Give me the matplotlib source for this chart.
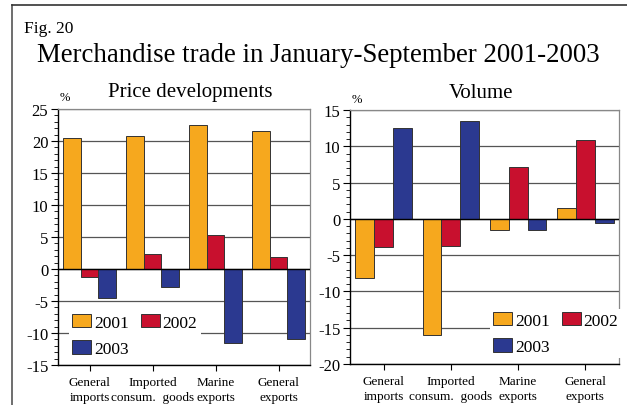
import numpy as np
import matplotlib
matplotlib.use('Agg')
import matplotlib.pyplot as plt
from matplotlib.lines import Line2D
from matplotlib.ticker import MultipleLocator

plt.rcParams['font.family'] = ['Liberation Serif', 'DejaVu Serif']
plt.rcParams['axes.unicode_minus'] = False

categories = ['General\nimports', 'Imported\nconsum.  goods', 'Marine\nexports', 'General\nexports']
years = ['2001', '2002', '2003']
colors = ['#F6A81E', '#C8102E', '#2B3990']

price_2001 = [20.4, 20.8, 22.5, 21.5]
price_2002 = [-1.2, 2.4, 5.3, 1.8]
price_2003 = [-4.5, -2.8, -11.5, -11.0]

volume_2001 = [-8.2, -16.0, -1.6, 1.55]
volume_2002 = [-3.9, -3.8, 7.2, 10.8]
volume_2003 = [12.5, 13.5, -1.6, -0.6]

W, H = 627, 406
fig = plt.figure(figsize=(6.27, 4.06), dpi=100)

# outer frame (left and top only)
fig.add_artist(Line2D([12 / W, 12 / W], [0, 1 - 6 / H], color='#555555', lw=1.2))
fig.add_artist(Line2D([12 / W, 1], [1 - 6 / H, 1 - 6 / H], color='#333333', lw=1.2))

fig.text(24 / W, 1 - 29 / H, 'Fig. 20', fontsize=12.5, va='center', ha='left')
fig.text(318 / W, 1 - 56 / H, 'Merchandise trade in January-September 2001-2003',
         fontsize=19.4, va='center', ha='center')


def panel(rect, series, ylim, title, title_x, pct_x, pct_y, leg_anchor):
    ax = fig.add_axes(rect)
    x = np.arange(len(categories))
    w = 0.28
    bars = []
    for k, vals in enumerate(series):
        b = ax.bar(x + (k - 1) * w, vals, width=w, color=colors[k],
                   edgecolor='#333333', linewidth=0.7, zorder=3, label=years[k])
        bars.append(b)
    ax.set_xlim(-0.5, 3.5)
    ax.set_ylim(*ylim)
    ax.yaxis.set_major_locator(MultipleLocator(5))
    ax.yaxis.set_minor_locator(MultipleLocator(1))
    ax.grid(axis='y', which='major', color='#555555', lw=0.9, zorder=0)
    ax.axhline(0, color='black', lw=1.0, zorder=4)
    ax.set_xticks(x)
    ax.set_xticklabels(categories, fontsize=9.5, linespacing=1.3)
    ax.tick_params(axis='y', which='major', labelsize=12, length=5, direction='out', pad=2)
    ax.tick_params(axis='y', which='minor', length=3, direction='out')
    ax.tick_params(axis='x', length=4, direction='out', pad=4)
    for s in ['top', 'right']:
        ax.spines[s].set_color('#888888')
        ax.spines[s].set_linewidth(0.9)
    for s in ['left', 'bottom']:
        ax.spines[s].set_color('black')
        ax.spines[s].set_linewidth(1.0)
    fig.text(title_x / W, 1 - 93 / H, title, fontsize=15, ha='center', va='center')
    fig.text(pct_x / W, 1 - pct_y / H, '%', fontsize=9, ha='center', va='center')
    leg = ax.legend([bars[0], bars[2], bars[1]], ['2001', '2003', '2002'], ncol=2,
                    loc='center left', bbox_to_anchor=leg_anchor, borderaxespad=0,
                    frameon=True, fancybox=False, edgecolor='none', framealpha=1,
                    fontsize=12.5, handlelength=1.1, handleheight=0.8,
                    handletextpad=0.15, columnspacing=0.7, labelspacing=0.55,
                    borderpad=0.2)
    leg.set_zorder(5)
    for p in leg.get_patches():
        p.set_edgecolor('#333333')
    return ax


panel([58 / W, 1 - 366 / H, 252 / W, 256 / H], [price_2001, price_2002, price_2003],
      (-15, 25), 'Price developments', 190, 65, 98, (0.042, 0.115))
panel([350 / W, 1 - 365 / H, 269 / W, 254 / H], [volume_2001, volume_2002, volume_2003],
      (-20, 15), 'Volume', 481, 357, 100, (0.519, 0.12))

fig.savefig('out.png', dpi=100)
